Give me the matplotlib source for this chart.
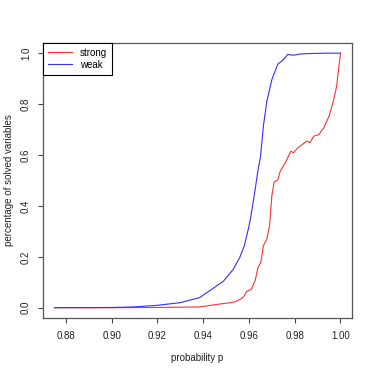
import matplotlib
matplotlib.use('Agg')
import matplotlib.pyplot as plt

plt.rcParams['font.family'] = ['Liberation Sans', 'DejaVu Sans']

# values
p_weak = [0.875, 0.890, 0.900, 0.909, 0.9195, 0.930, 0.9385, 0.944, 0.9488, 0.953,
          0.956, 0.958, 0.960, 0.961, 0.9627, 0.964, 0.965, 0.9663, 0.9678, 0.970,
          0.9726, 0.975, 0.9769, 0.9795, 0.9824, 0.988, 0.994, 1.000]
weak = [0.0, 0.0005, 0.001, 0.003, 0.009, 0.02, 0.04, 0.074, 0.104, 0.149,
        0.198, 0.244, 0.32, 0.367, 0.465, 0.543, 0.59, 0.713, 0.81, 0.896,
        0.957, 0.974, 0.995, 0.992, 0.997, 0.999, 1.0, 1.0]

p_strong = [0.875, 0.900, 0.920, 0.9385, 0.946, 0.952, 0.9546, 0.9576, 0.959, 0.961,
            0.9627, 0.964, 0.9652, 0.9663, 0.9678, 0.969, 0.970, 0.971, 0.9726, 0.9737,
            0.9759, 0.9783, 0.9795, 0.981, 0.9832, 0.9854, 0.9866, 0.9883, 0.9905, 0.9927,
            0.995, 0.997, 0.9983, 0.9993, 1.000]
strong = [0.0, 0.0, 0.001, 0.003, 0.013, 0.02, 0.025, 0.042, 0.064, 0.072,
          0.107, 0.159, 0.179, 0.244, 0.27, 0.322, 0.44, 0.494, 0.502, 0.537,
          0.57, 0.615, 0.609, 0.625, 0.641, 0.655, 0.648, 0.674, 0.68, 0.707,
          0.752, 0.817, 0.87, 0.948, 1.0]

xticks = [0.88, 0.90, 0.92, 0.94, 0.96, 0.98, 1.00]
yticks = [0.0, 0.2, 0.4, 0.6, 0.8, 1.0]

fig = plt.figure(figsize=(3.74, 3.74), dpi=100)
ax = fig.add_axes([0.115, 0.150, 0.826, 0.735])

ax.plot(p_strong, strong, color='#ff3030', lw=0.8, label='strong')
ax.plot(p_weak, weak, color='#3030ff', lw=0.8, label='weak')

ax.set_xlim(0.87, 1.005)
ax.set_ylim(-0.04, 1.04)
ax.set_xticks(xticks)
ax.set_xticklabels(['%.2f' % t for t in xticks])
ax.set_yticks(yticks)
ax.set_yticklabels(['%.1f' % t for t in yticks], rotation=90, va='center')
ax.tick_params(direction='out', length=3.6, width=0.8, labelsize=7,
               color='#444444', labelcolor='#222222')
ax.tick_params(axis='x', pad=6)
ax.tick_params(axis='y', pad=5)
for s in ax.spines.values():
    s.set_color('#555555')
    s.set_linewidth(0.9)

ax.set_xlabel('probability p', fontsize=7, color='#222222')
ax.set_ylabel('percentage of solved variables', fontsize=7, color='#222222')
ax.xaxis.set_label_coords(0.5, -0.127)
ax.yaxis.set_label_coords(-0.094, 0.5)

leg = ax.legend(loc='upper left', borderaxespad=0, fontsize=7, fancybox=False,
                edgecolor='black', framealpha=1, handlelength=2.5, borderpad=0.5,
                labelspacing=0.2)
leg.get_frame().set_linewidth(0.8)

fig.savefig('out.png', dpi=100)
